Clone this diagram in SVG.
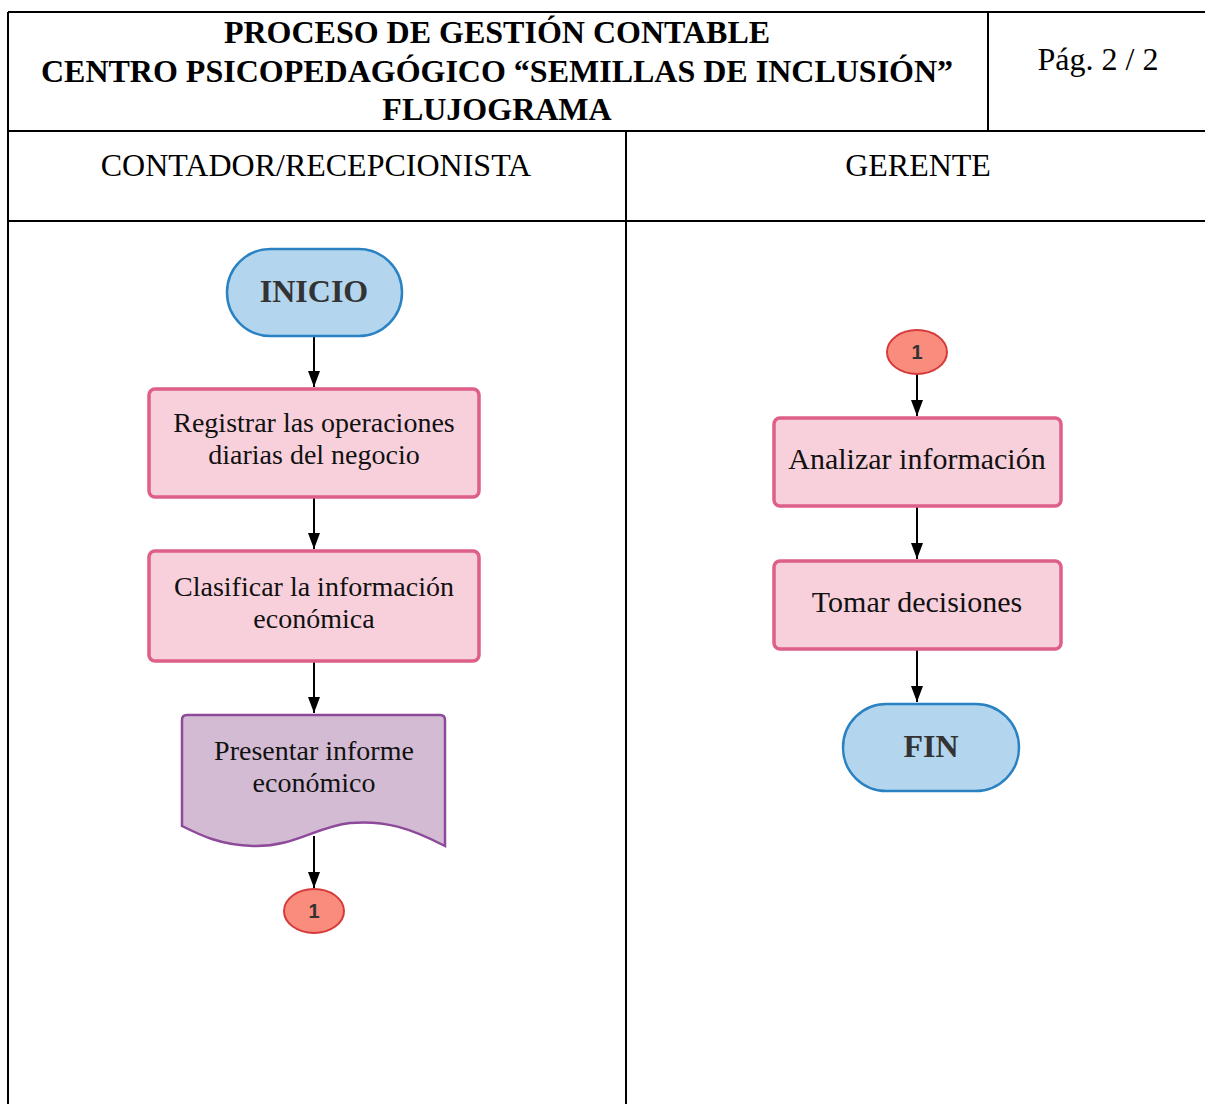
<svg xmlns="http://www.w3.org/2000/svg" width="1205" height="1104" viewBox="0 0 1205 1104">
<style>
.grid{stroke:#000;stroke-width:2;fill:none}
.hdr{font-family:"Liberation Serif",serif;font-size:32px;fill:#000}
.b{font-weight:bold}
.term{fill:#b3d5ee;stroke:#2a82c2;stroke-width:2.5}
.proc{fill:#f8d0dc;stroke:#de5f87;stroke-width:3.5}
.doc{fill:#d3bcd3;stroke:#8e4a9a;stroke-width:2.5}
.conn{fill:#fa8c7d;stroke:#d63b3b;stroke-width:2}
.t{font-family:"Liberation Serif",serif;font-size:30px;fill:#111;text-anchor:middle}
.t2{font-family:"Liberation Serif",serif;font-size:28px;fill:#111;text-anchor:middle}
.tt{font-family:"Liberation Serif",serif;font-size:32px;font-weight:bold;fill:#333;text-anchor:middle}
.ct{font-family:"Liberation Sans",sans-serif;font-size:20px;font-weight:bold;fill:#333;text-anchor:middle}
.edge{stroke:#000;stroke-width:2;fill:none;marker-end:url(#ah)}
</style>
<defs>
<marker id="ah" viewBox="0 0 16 12" refX="16" refY="6" markerWidth="16" markerHeight="12" markerUnits="userSpaceOnUse" orient="auto">
<path d="M0,0 L16,6 L0,12 Z" fill="#000"/>
</marker>
</defs>
<rect width="1205" height="1104" fill="#fff"/>
<g id="table">
<line class="grid" x1="8" y1="12" x2="1205" y2="12"/>
<line class="grid" x1="8" y1="12" x2="8" y2="1104"/>
<line class="grid" x1="988" y1="12" x2="988" y2="131"/>
<line class="grid" x1="8" y1="131" x2="1205" y2="131"/>
<line class="grid" x1="626" y1="131" x2="626" y2="1104"/>
<line class="grid" x1="8" y1="221" x2="1205" y2="221"/>
<text class="hdr b" x="497" y="43" text-anchor="middle">PROCESO DE GESTIÓN CONTABLE</text>
<text class="hdr b" x="497" y="82" text-anchor="middle">CENTRO PSICOPEDAGÓGICO “SEMILLAS DE INCLUSIÓN”</text>
<text class="hdr b" x="497" y="120" text-anchor="middle">FLUJOGRAMA</text>
<text class="hdr" x="1098" y="70" text-anchor="middle">Pág. 2 / 2</text>
<text class="hdr" x="316" y="176" text-anchor="middle">CONTADOR/RECEPCIONISTA</text>
<text class="hdr" x="918" y="176" text-anchor="middle">GERENTE</text>
</g>
<g id="connectors">
<line class="edge" x1="314" y1="337" x2="314" y2="387"/>
<line class="edge" x1="314" y1="498" x2="314" y2="549"/>
<line class="edge" x1="314" y1="662" x2="314" y2="713"/>
<line class="edge" x1="314" y1="836" x2="314" y2="888"/>
<line class="edge" x1="917" y1="374" x2="917" y2="416"/>
<line class="edge" x1="917" y1="507" x2="917" y2="559"/>
<line class="edge" x1="917" y1="650" x2="917" y2="702"/>
</g>
<g id="inicio">
<rect class="term" x="227" y="249" width="175" height="87" rx="43.5"/>
<text class="tt" x="314" y="302">INICIO</text>
</g>
<g id="registrar">
<rect class="proc" x="149" y="389" width="330" height="108" rx="6"/>
<text class="t2" x="314" y="432">Registrar las operaciones</text>
<text class="t2" x="314" y="464">diarias del negocio</text>
</g>
<g id="clasificar">
<rect class="proc" x="149" y="551" width="330" height="110" rx="6"/>
<text class="t2" x="314" y="596">Clasificar la información</text>
<text class="t2" x="314" y="628">económica</text>
</g>
<g id="presentar">
<path class="doc" d="M182,826 L182,720 Q182,715 187,715 L440,715 Q445,715 445,720 L445,846 C410,828 385,820 350,823 C315,827 295,847 253,846 C220,845 200,835 182,826 Z"/>
<text class="t2" x="314" y="760">Presentar informe</text>
<text class="t2" x="314" y="792">económico</text>
</g>
<g id="conector1a">
<ellipse class="conn" cx="314" cy="911" rx="30" ry="22"/>
<text class="ct" x="314" y="918">1</text>
</g>
<g id="conector1b">
<ellipse class="conn" cx="917" cy="352" rx="30" ry="22"/>
<text class="ct" x="917" y="359">1</text>
</g>
<g id="analizar">
<rect class="proc" x="774" y="418" width="287" height="88" rx="6"/>
<text class="t" x="917" y="469">Analizar información</text>
</g>
<g id="tomar">
<rect class="proc" x="774" y="561" width="287" height="88" rx="6"/>
<text class="t" x="917" y="612">Tomar decisiones</text>
</g>
<g id="fin">
<rect class="term" x="843" y="704" width="176" height="87" rx="43.5"/>
<text class="tt" x="931" y="757">FIN</text>
</g>
</svg>
